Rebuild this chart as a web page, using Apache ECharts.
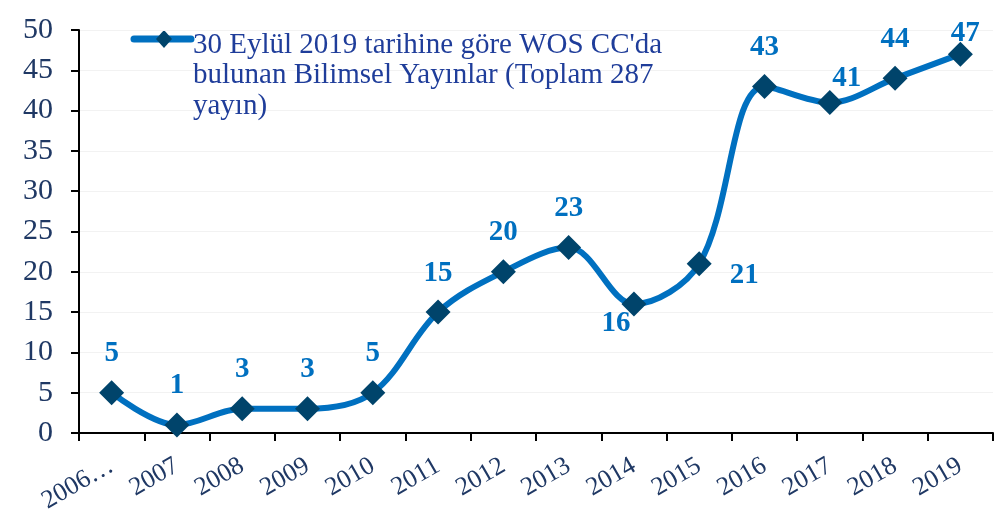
<!DOCTYPE html>
<html>
<head>
<meta charset="utf-8">
<script src="https://cdn.jsdelivr.net/npm/echarts@6/dist/echarts.min.js"></script>
<style>
  html, body { margin: 0; padding: 0; background: #fff; }
  #chart { width: 995px; height: 528px; }
</style>
</head>
<body>
<div id="chart"></div>
<script>
const years = ['2006…', '2007', '2008', '2009', '2010', '2011', '2012', '2013', '2014', '2015', '2016', '2017', '2018', '2019'];
const counts = [5, 1, 3, 3, 5, 15, 20, 23, 16, 21, 43, 41, 44, 47];
const seriesName = "30 Eylül 2019 tarihine göre WOS CC'da\nbulunan Bilimsel Yayınlar (Toplam 287\nyayın)";

const font = '"Liberation Serif", "Times New Roman", serif';
const blue = '#0070c0';
const marker = '#00446b';

// label placement (centre offset from the marker), default sits above
const labelShift = { 8: [-18, 19], 9: [45, 12], 11: [17, -24], 13: [5, -21] };

const chart = echarts.init(document.getElementById('chart'));
chart.setOption({
  animation: false,
  textStyle: { fontFamily: font },
  grid: { left: 79, right: 2, top: 30, bottom: 95, containLabel: false },
  legend: {
    left: 127,
    top: 25,
    itemWidth: 56,
    itemHeight: 14,
    data: [{ name: seriesName, icon: 'none' }],
    textStyle: { fontFamily: font, fontSize: 29, color: '#1f3d9a', lineHeight: 30.5, verticalAlign: 'top' }
  },
  graphic: [
    { type: 'line', shape: { x1: 134, y1: 39, x2: 191, y2: 39 }, style: { stroke: blue, lineWidth: 7, lineCap: 'round' } },
    { type: 'polygon', shape: { points: [[164, 30], [172, 39], [164, 48], [156, 39]] }, style: { fill: marker } }
  ],
  xAxis: {
    type: 'category',
    data: years,
    boundaryGap: true,
    axisLine: { lineStyle: { color: '#000', width: 2 } },
    axisTick: { show: true, length: 8, lineStyle: { color: '#000', width: 2 } },
    axisLabel: { rotate: 30, margin: 31, fontFamily: font, fontSize: 26, color: '#1f3864', interval: 0 },
    splitLine: { show: false }
  },
  yAxis: {
    type: 'value',
    min: 0,
    max: 50,
    interval: 5,
    axisLine: { show: true, lineStyle: { color: '#000', width: 2 } },
    axisTick: { show: true, length: 8, lineStyle: { color: '#000', width: 2 } },
    axisLabel: { margin: 26, fontFamily: font, fontSize: 30, color: '#1f3864' },
    splitLine: { show: true, lineStyle: { color: '#f2f2f2', width: 1 } }
  },
  series: [{
    name: seriesName,
    type: 'line',
    smooth: 0.35,
    data: counts.map((v, i) => ({
      value: v,
      label: { position: 'inside', offset: labelShift[i] || [0, -39] }
    })),
    symbol: 'diamond',
    symbolSize: 25,
    itemStyle: { color: marker },
    lineStyle: { color: blue, width: 6 },
    label: {
      show: true,
      fontFamily: font,
      fontSize: 29,
      fontWeight: 'bold',
      color: blue
    },
    z: 3
  }]
});
window.addEventListener('resize', () => chart.resize());
</script>
</body>
</html>
